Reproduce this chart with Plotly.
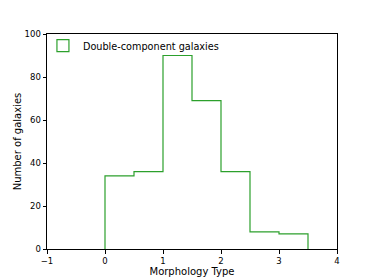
import plotly.graph_objects as go

bin_edges = [0, 0.5, 1.0, 1.5, 2.0, 2.5, 3.0, 3.5]
counts = [34, 36, 90, 69, 36, 8, 7]
series_name = "Double-component galaxies"
green = "#2ca02c"

# step outline built from edges and counts
xs = [bin_edges[0]]
ys = [0]
for i, c in enumerate(counts):
    xs += [bin_edges[i], bin_edges[i + 1]]
    ys += [c, c]
xs.append(bin_edges[-1])
ys.append(0)

fig = go.Figure()
fig.add_trace(go.Scatter(
    x=xs, y=ys, mode="lines", name=series_name,
    line=dict(color=green, width=1.2),
    showlegend=False,
))
# legend-only entry with rectangular patch icon
fig.add_trace(go.Bar(
    x=[None], y=[None], name=series_name,
    marker=dict(color="rgba(255,255,255,0)", line=dict(color=green, width=1.2)),
    showlegend=True,
))

axis_common = dict(
    showline=True, linecolor="black", linewidth=1, mirror=True,
    ticks="outside", ticklen=3.5, tickcolor="black", tickwidth=1,
    showgrid=False, zeroline=False, automargin=False,
    tickfont=dict(family="DejaVu Sans", size=8.5, color="black"),
    title_font=dict(family="DejaVu Sans", size=10, color="black"),
)

# page body has an 8px default margin, so the figure is sized to fit inside
fig.update_layout(
    width=366, height=272,
    margin=dict(l=39, r=37, t=26, b=31),
    paper_bgcolor="white", plot_bgcolor="white",
    xaxis=dict(range=[-1, 4], tickvals=[-1, 0, 1, 2, 3, 4],
               ticktext=["\u22121", "0", "1", "2", "3", "4"],
               title=dict(text="Morphology Type", standoff=0), **axis_common),
    yaxis=dict(range=[0, 100], tickvals=[0, 20, 40, 60, 80, 100],
               title=dict(text="Number of galaxies", standoff=1), **axis_common),
    legend=dict(x=-0.014, y=1.013, xanchor="left", yanchor="top",
                bgcolor="rgba(255,255,255,0)",
                font=dict(family="DejaVu Sans", size=9.7, color="black")),
)

fig.write_html("out.html")
